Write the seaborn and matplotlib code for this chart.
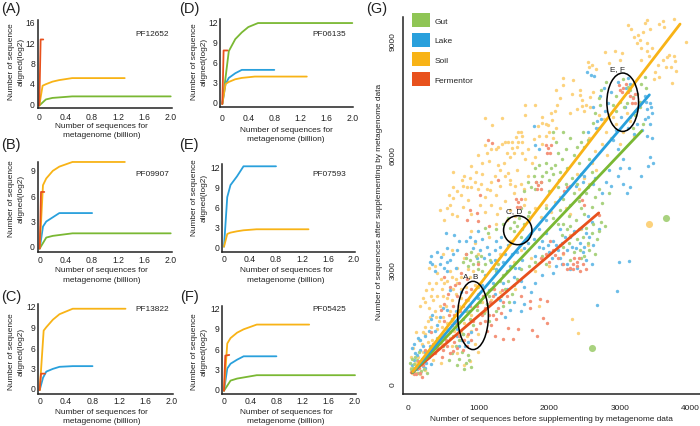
import matplotlib
matplotlib.use('Agg')
import pandas as pd
import seaborn as sns
import matplotlib.pyplot as plt
from matplotlib.patches import Ellipse, Patch

sns.set_style('white')
plt.rcParams['font.family'] = ['Liberation Sans', 'DejaVu Sans']

GREEN, BLUE, ORANGE, RED = '#7AB833', '#29A0DC', '#F8B316', '#E8511D'
palette = {'Gut': GREEN, 'Lake': BLUE, 'Soil': ORANGE, 'Fermentor': RED}
light = {'Gut': '#A9D27F', 'Lake': '#6CBDE8', 'Soil': '#FCD27D', 'Fermentor': '#F4937A'}
INK = '#222222'

#rarefaction curves, (x, y) per habitat
a_soil = [(0, -0.5), (0.05, 3.4), (0.1, 3.7), (0.2, 4.2), (0.3, 4.5), (0.5, 4.9), (0.8, 4.9), (1.3, 4.9)]
a_gut = [(0, -0.5), (0.1, 0.7), (0.2, 1.0), (0.5, 1.3), (1.0, 1.3), (2.0, 1.3)]
a_ferm = [(0, -0.5), (0.01, 6), (0.02, 12.5), (0.06, 12.5)]

b_soil = [(0, -0.3), (0.05, 7.2), (0.1, 8.0), (0.2, 8.9), (0.3, 9.4), (0.5, 9.95), (0.8, 9.95), (1.3, 9.95)]
b_lake = [(0, -0.3), (0.05, 2.3), (0.1, 2.9), (0.2, 3.4), (0.3, 3.9), (0.5, 3.9), (0.8, 3.9)]
b_gut = [(0, -0.3), (0.1, 1.0), (0.2, 1.2), (0.5, 1.5), (1.0, 1.5), (2.0, 1.5)]
b_ferm = [(0, -0.3), (0.01, 3), (0.02, 6.4), (0.07, 6.4)]

c_soil = [(0, -0.3), (0.06, 8.4), (0.1, 8.9), (0.2, 10.0), (0.3, 10.8), (0.5, 11.6), (0.8, 11.6), (1.3, 11.6)]
c_lake = [(0, -0.3), (0.05, 1.5), (0.1, 2.4), (0.2, 2.8), (0.3, 3.1), (0.5, 3.2), (0.8, 3.2)]
c_ferm = [(0, -0.3), (0.01, 1), (0.02, 2.1), (0.08, 2.1)]

d_gut = [(0, -0.3), (0.1, 7.6), (0.2, 9.4), (0.3, 10.4), (0.4, 11.2), (0.55, 11.8), (1.0, 11.8), (2.0, 11.8)]
d_lake = [(0, -0.3), (0.05, 2.7), (0.1, 3.6), (0.2, 4.3), (0.3, 4.8), (0.5, 4.8), (0.8, 4.8)]
d_soil = [(0, -0.3), (0.05, 2.7), (0.1, 3.0), (0.2, 3.4), (0.3, 3.6), (0.5, 3.8), (0.8, 3.8), (1.3, 3.8)]
d_ferm = [(0, -0.3), (0.01, 3.5), (0.02, 7.7), (0.08, 7.7)]

e_lake = [(0, 0), (0.05, 7.4), (0.1, 9.2), (0.2, 10.5), (0.3, 12), (0.5, 12), (0.8, 12)]
e_soil = [(0, 0), (0.05, 1.9), (0.1, 2.1), (0.2, 2.3), (0.3, 2.45), (0.5, 2.6), (0.8, 2.6), (1.3, 2.6)]

f_soil = [(0, -0.3), (0.05, 6.7), (0.1, 7.5), (0.2, 8.3), (0.3, 8.8), (0.5, 9.5), (0.8, 9.5), (1.3, 9.5)]
f_lake = [(0, -0.3), (0.05, 3.0), (0.1, 3.7), (0.2, 4.3), (0.3, 4.8), (0.5, 4.8), (0.8, 4.8)]
f_gut = [(0, -0.3), (0.1, 1.2), (0.2, 1.5), (0.5, 2.0), (1.0, 2.0), (2.0, 2.0)]
f_ferm = [(0, -0.3), (0.01, 2.5), (0.02, 4.9), (0.08, 5.0)]

#scatter points of panel G
soil_pts = [(3121,9412),(3380,9544),(3616,9500),(3767,9570),(3932,8950),(3239,8930),(3380,8930),(3262,9150),(3380,8712),(2791,8686),
(2932,8712),(3027,8670),(2555,8432),(3663,8580),(3781,8450),(3498,8187),(3734,7880),(2202,8012),(2343,7970),(2202,7840),
(2438,7706),(2461,7444),(2579,7531),(2108,7312),(1660,7312),(1801,7312),(1660,7050),(1094,6962),(1330,6962),(1188,6787),
(1895,7006),(2036,6918),(1566,6612),(1424,6350),(1094,6262),(1000,6000),(1613,6350),(1377,6350),(1047,5780),(646,5562),
(764,5343),(952,5300),(1165,5081),(1283,5737),(1424,5519),(1542,5606),(646,4862),(457,4556),(858,4818),(3160,9300),(3290,9000),(3420,9300),
(3450,8800),(3560,9420),(3650,8300),(3720,8300),(3790,8200),(3300,8500),(2850,8400),(3000,8500),(2600,8350),(2660,8250),(2100,7700),(2150,7500),
(2320,7600),(2400,7200),(2500,7150),(2520,7300),(2300,7100),(1950,6800),(2000,6600),(2100,6700),(1850,6500),(1900,6300),(2050,6450),(1700,6150),
(1550,6200),(1500,6050),(1450,5950),(1250,6150),(1150,5850),(1050,5500),(900,5700),(800,5450),(900,5150),(1000,5100),(1100,4900),(1250,4950),
(1300,5200),(1450,5250),(1500,5000),(1650,5100),(1700,5450),(750,4950),(600,4700),(520,4300),(700,4400),(1100,4500),(1300,4600),(1400,4300),
(1250,4200),(1650,4700),(1800,4600),(1950,4700),(2150,4900),(2300,4450),(2500,5400),(2650,6100),(2800,6600),(2950,6800),(3100,7100),(2900,7000),
(2750,6300),(2600,5800),(2400,5500),(3000,6300),(3200,6500),(2450,4050),(2300,3900),(2550,3650),(2200,3400),(2000,3100),(1800,2950),(1750,3300),
(1600,3500),(1450,3750),(1300,3400),(1150,3850),(950,3700),(900,4000),(800,3300),(700,3050),(850,3000),(750,2800),(600,2950),(520,2650),
(640,2500),(500,2300),(350,2500),(250,2150),(450,2050),(380,1900),(310,1750),(500,1750),(600,1900),(730,2050),(850,2200),(820,2550),
(950,2600),(1000,2350),(1050,2150),(900,1800),(800,1600),(700,1500),(550,1450),(420,1450),(250,1300),(120,1350),(200,1050),(350,1150),
(480,1050),(600,1200),(840,1250),(900,1400),(1000,1300),(150,700),(100,560),(250,700),(50,430),(120,300),(80,350),(180,500),
(330,2300),(400,2650),(560,2250),(300,2000),(440,1650),(680,2750),(2329,1700),(2414,1325),(470,550),(1100,1900),(1180,2200),(1300,2400),(1520,2500),(1850,2050),
(3200,9100),(3330,9230),(3350,9470),(3630,9350),(3300,8800),(3410,8600),(3540,8350),(3610,8500),(3690,8620),(3760,8600),(3560,8050),(3480,8000),(2560,8300),(2580,7250),(2620,7650),(2440,7580),(2470,7280),
(2090,7150),(2020,7100),(1900,6850),(1960,6500),(1990,6780),(1840,6750),(1780,6420),(1620,6500),(1600,6600),(1530,6480),(1560,6350),(1480,6330),(1340,6300),(1280,6200),(1180,6150),(1120,6050),
(1400,6050),(1470,6180),(1610,6050),(1660,5900),(1760,5800),(1800,5950),(1360,5800),(1300,5600),(1380,5450),(1440,5350),(1520,5200),(1600,5250),(1240,5450),(1180,5300),(1120,5120),(1030,5250),
(960,5550),(880,5400),(840,5150),(780,5200),(700,5050),(640,5150),(580,4950),(550,4600),(620,4450),(780,4650),(900,4450),(1020,4700),(1180,4700),(1260,4450),(1380,4800),(1440,4550),(1520,4400),
(1660,4850),(1720,4300),(1880,4380),(2020,4500),(2080,4780),(2240,4600),(2420,5100),(2560,5250),(2660,5600),(2820,6000),(2880,6450),(3050,6600),(3140,6900),(2780,6950),(2700,7050),(2560,6450),
(300,3050),(380,3100),(420,2900),(470,2750),(560,2700),(620,2800),(700,2650),(760,2500),(880,2800),(920,2950),(300,2650),(260,2450),(220,2250),(180,2050),(360,2200),(420,2300),(480,2500),(540,2050),
(620,2200),(680,2350),(760,2250),(810,1950),(700,1800),(640,1650),(560,1600),(480,1500),(400,1750),(330,1500),(280,1650),(240,1500),(210,1350),(160,1150),(290,1100),(420,1000),(520,1250),(650,1400),
(760,1350),(950,1050),(1000,850),(880,600),(700,800),(630,1000),(80,950),(40,700),(210,850),(300,800),(360,620),(180,250),(240,360),(60,280),(800,500),(500,3400),(620,3500),(1000,3400),(1500,3200)]

gut_pts = [(3050,8000),(3150,7700),(3250,7600),(3300,7850),(3350,8050),(3000,7400),(3100,7350),(2900,7300),(2950,7550),(3150,7000),(3220,7150),(3280,7250),
(3330,6800),(3180,6700),(2800,7900),(2700,7500),(2650,7100),(2480,6600),(2500,6200),(2350,6000),(2420,5800),(2560,5900),(2250,5650),(2150,5550),(2050,6600),(2100,6350),
(1950,5800),(1850,5750),(1800,5650),(1900,5450),(2000,5350),(1700,5300),(1650,5050),(1800,5100),(2000,5050),(2400,5250),(2550,5150),(2700,5100),(2850,5000),(2750,4750),
(2600,4650),(2450,4600),(2200,4850),(2350,5000),(1500,4250),(1580,4350),(1650,4200),(1500,4000),(1600,3850),(1450,4100),(1100,4100),(1130,3950),(2200,4200),(2300,4150),
(2350,3950),(2480,3850),(2550,3700),(2600,3950),(2700,4000),(2730,4250),(2790,4150),(2650,3400),(2500,3350),(2430,3500),(2300,3250),(820,3300),(880,3250),(960,3350),(850,3100),(900,3450),
(1100,3150),(1050,2950),(1200,3050),(1300,2700),(1250,2950),(1000,2550),(1020,2150),(980,1950),(830,1900),(880,1700),(1380,2500),(1470,2350),(1500,2600),(1350,2050),(1250,1900),(1150,1650),
(640,1250),(730,1150),(770,850),(850,750),(830,550),(900,450),(720,650),(620,800),(500,1000),(420,1200),(160,850),(130,620),(60,650),(30,550),(120,420),(190,350),(90,300),(150,280),
(2500,4450),(2280,4400),(1950,4600),(1720,4500),(1600,4600),(2380,4300),(1000,3000),(1150,2300),(1320,2300),
(3110,7780),(3180,7530),(3060,7250),(3210,7050),(3370,7750),(3290,7400),(2950,7150),(2720,7300),(2740,7700),(2620,6850),(2550,6400),(2450,6350),(2400,6200),(2300,6450),(2200,6600),(2240,6150),
(2120,6050),(2180,5900),(2080,5750),(2020,5650),(1960,5550),(2060,5500),(2140,5350),(1880,5300),(1780,5450),(1820,5300),(1740,5150),(2120,5150),(2240,5250),(2320,5400),(2450,5500),(2600,5550),
(2520,5000),(2650,4900),(2420,4800),(2300,4700),(2150,4550),(2050,4350),(2120,4200),(2250,4050),(2180,3900),(2280,3700),(2400,3800),(2420,4050),(2520,4100),(2620,4200),(2680,3800),(2560,3500),
(2450,3300),(2350,3450),(2200,3600),(1540,4150),(1620,4050),(1700,4400),(1420,4350),(1350,4200),(1250,4050),(780,3200),(830,3400),(930,3150),(990,3200),(1030,3350),(1160,3250),(1280,3150),(1350,2850),
(1420,2700),(1550,2750),(1600,3000),(1720,3100),(1800,3200),(1900,3350),(1950,3150),(1430,2150),(1180,2500),(1120,2100),(1080,1850),(930,1550),(780,1300),(680,1000),(580,620),(790,400),(860,620),(700,500),
(230,700),(190,560),(90,520),(40,400),(230,400),(110,720),(70,420),(270,300)]

lake_pts = [(3120,8020),(2980,7900),(2540,8180),(2590,8100),(2630,8080),(2770,7750),(2720,7550),(2830,7350),(2620,7250),(2680,6900),(2950,6650),(3020,7000),(3090,7750),(3150,7850),(3350,7550),(3420,7350),
(3450,7100),(3400,7000),(3250,6800),(3380,6500),(3450,6450),(3430,5950),(3470,5800),(3400,5700),(3300,5450),(3150,5150),(3100,5000),(3050,5250),(2970,5450),(2850,5600),(2800,5300),(2650,5400),
(2500,5450),(2700,6700),(2550,6600),(1780,6750),(1800,6250),(1850,6150),(2994,3209),(3135,3218),(2956,2424),(2683,2058),(2700,4050),(2550,4400),(2450,4100),(2350,4000),(2300,3850),(2180,3700),
(2100,3650),(1950,3950),(1900,3750),(1850,3600),(1800,3350),(2000,3450),(2150,3300),(2250,3500),(2500,3600),(2520,3250),(2600,3150),(2100,3100),(1900,2850),(1800,2650),(1750,2400),(1650,2550),
(1600,2700),(1500,2800),(1400,2950),(1350,3200),(1300,3600),(1250,3750),(1150,3400),(1000,4000),(950,3750),(880,3850),(1050,3800),(730,3750),(650,3900),(550,3550),(540,3950),(320,3200),(330,3350),(350,3150),(470,3330),
(420,3450),(600,3250),(680,3050),(560,2950),(1100,2850),(1050,2600),(1000,2250),(1300,2200),(1450,1950),(1600,1900),(1400,2500),(1200,2650),(760,2400),(600,2450),(500,2000),(330,1700),(350,1800),
(420,1550),(300,1400),(140,1200),(90,1050),(180,1150),(60,950),(100,800),(200,650),(260,550),(240,420),(170,300),(150,500),(780,1300),(850,1100),(730,1000),(700,1450),(620,1700),(1250,3000),(1580,3050),
(1700,3700),(1750,3950),(1550,3450),(1450,3100),(2050,2900),(2250,3150),(2400,3050),(1850,4050),(2150,4050),(1950,4300),
(3370,7400),(3440,7250),(3390,7200),(3360,6950),(3430,6800),(3310,6650),(3200,6550),(3120,6700),(3070,7250),(2880,7650),(2790,7150),(2740,6950),(2660,6700),(2900,6400),(2980,6150),(3040,5900),(3130,5650),
(3000,5650),(2880,5200),(2750,5000),(2620,5250),(2480,5300),(2380,5200),(2600,4250),(2520,3950),(2430,3700),(2380,3550),(2320,3600),(2230,3850),(2130,3500),(2060,3750),(1980,3650),(1920,3550),(2040,3300),
(2180,3150),(2300,3000),(2480,3450),(2560,3850),(2620,3650),(1780,3800),(1650,3550),(1620,3250),(1520,3050),(1480,3400),(1420,3650),(1380,3400),(1320,3850),(1230,3500),(1180,3200),(1240,3250),(1120,3600),
(1080,3300),(1020,3500),(980,3300),(920,3550),(820,3750),(700,3500),(640,3400),(560,3200),(510,3050),(450,3150),(390,2950),(1150,2450),(1230,2350),(1350,2650),(1500,2150),(1650,2100),(1380,1750),(1120,2100),
(870,1900),(780,1700),(680,1900),(560,1950),(450,1750),(380,1400),(240,1250),(210,1000),(320,1000),(250,850),(180,900),(130,750),(90,620),(60,500),(210,480),(130,380),(300,700),(330,520),(700,1250),(810,1000),(760,1150),(900,1350)]

ferm_pts = [(1565,4775),(1530,4850),(1600,4850),(1540,4650),(1590,4640),(1990,6175),(1950,6250),(2030,6250),(1970,6050),(2010,6050),(1848,5212),(1810,5300),(1880,5120),(1830,5100),(1880,5300),(2249,5170),(2210,5050),(2290,5200),
(3050,7750),(2990,7830),(3090,7850),(3030,7650),(3192,7488),(3140,7550),(3220,7600),(3210,7350),(882,4556),(1188,6324),(1140,6400),(1023,4950),(1283,5343),(2461,4818),(2420,4900),(2500,4700),(976,4482),(835,4308),(1000,4264),
(2084,3392),(2013,3741),(2202,3436),(2390,3087),(2296,3043),(2249,3000),(2420,3300),(2350,3300),(2150,3650),(1966,2171),(1872,2215),(1730,2171),(1424,1474),(1565,1430),(1754,1404),(1353,1186),(1825,1256),(1495,1168),(1235,1256),
(1966,1604),(1919,1735),(198,183),(646,863),(560,1000),(720,1250),(600,1350),(800,1150),(500,900),(380,800),(450,1250),(330,1350),(250,900),(140,600),(100,400),(70,350),(180,300),(520,1650),(660,1800),(780,2050),(700,2300),(820,2400),(900,2500),
(1050,1800),(1100,2000),(1160,2150),(1200,1800),(1270,2000),(1320,1850),(1350,2150),(1400,2300),(1180,1550),(1250,1700),(920,1650),(850,1300),(600,2550),(520,2800),(760,2900),(830,3400),(1000,3150),(1150,4150),(1600,2300),(1730,2000),(2700,4430),
(3000,7700),(3120,7650),(3170,7350),(2340,3000),(2400,3200),(2440,2950),(2340,3150),(2200,3150),(2130,3300),(2060,3500),(1950,3400),(1880,3300),(2000,3200),(2480,3150),(2520,3000),
(700,950),(660,1100),(600,800),(540,1150),(480,700),(420,950),(360,1050),(310,900),(260,650),(210,500),(120,250),(90,250),(50,320),(160,420),(780,900),(840,1000),(900,1150),(960,1450),(1020,1600),(1090,1650),(1150,1800),
(1120,1400),(1060,2300),(980,2050),(880,2050),(820,2200),(740,1900),(680,1600),(620,1550),(590,1800),(520,2100),(470,1950),(640,2050),(570,2350),(670,2600),(730,2650),(840,2750),(1200,2300),(1280,2250),(1220,2500),(1330,2450)]

lines_g = {'Soil': [(70, 320), (3852, 9430)], 'Lake': [(70, 310), (3418, 7575)],
           'Gut': [(70, 300), (3310, 6630)], 'Fermentor': [(60, 296), (2702, 4482)]}
big_gut = [(3654, 4351), (2612, 942)]
big_soil = [(3418, 4194)]

#ellipse centre x, y, width, height and label position
ell_ab = (924, 1796, 434, 1788, 'A, B', 891, 2843)
ell_cd = (1556, 4029, 401, 759, 'C, D', 1504, 4539)
ell_ef = (3041, 7382, 448, 1530, 'E, F', 2966, 8257)

#tag, tag pos, name, name pos, axes box, x ticks px, y ticks px, y ticks, curves, tick pad, xlabel (cx, top), ylabel (right, cy)
panels = [
    ('(A)', (1, 9), 'PF12652', (135.7, 34), (37.7, 20.7, 171.7, 109), (39.3, 170.7), (104, 22.7, 16), [0, 4, 8, 12, 16],
     [('Gut', a_gut), ('Soil', a_soil), ('Fermentor', a_ferm)], 3.2, (101.7, 123), (24.5, 61.5)),
    ('(B)', (1, 145), 'PF09907', (135.7, 174.3), (37.7, 163.3, 171.7, 253.3), (39.7, 170.7), (247, 171, 9), [0, 3, 6, 9],
     [('Gut', b_gut), ('Lake', b_lake), ('Soil', b_soil), ('Fermentor', b_ferm)], 2, (101.7, 267.5), (24.5, 199)),
    ('(C)', (1, 297), 'PF13822', (135.7, 309.3), (38.3, 304.7, 172.5, 394.7), (39.7, 171.7), (389, 307, 12), [0, 3, 6, 9, 12],
     [('Lake', c_lake), ('Soil', c_soil), ('Fermentor', c_ferm)], 2, (101.7, 409), (24.5, 352)),
    ('(D)', (179, 9), 'PF06135', (312.7, 34.3), (220.3, 20, 353.3, 108), (222.3, 352.3), (103, 22.7, 12), [0, 3, 6, 9, 12],
     [('Gut', d_gut), ('Lake', d_lake), ('Soil', d_soil), ('Fermentor', d_ferm)], 4, (286, 127), (207.5, 62)),
    ('(E)', (179, 145), 'PF07593', (312.7, 175), (222.3, 165, 355, 252.7), (224, 354), (247.7, 167.3, 12), [0, 3, 6, 9, 12],
     [('Lake', e_lake), ('Soil', e_soil)], 2, (286, 267.5), (207.5, 198)),
    ('(F)', (180, 297), 'PF05425', (312.7, 309.7), (222.3, 307, 356, 394.7), (224, 355), (389.7, 308.7, 12), [0, 3, 6, 9, 12],
     [('Gut', f_gut), ('Lake', f_lake), ('Soil', f_soil), ('Fermentor', f_ferm)], 2, (286, 409), (207.5, 352)),
]

W, H = 700, 427
FS = 5.95
fig = plt.figure(figsize=(7, 4.27), dpi=100)

def make_axes(box):
    l, t, r, b = box
    ax = fig.add_axes([l / W, 1 - b / H, (r - l) / W, (b - t) / H])
    ax.patch.set_alpha(0)
    sns.despine(ax=ax)
    for s in ['left', 'bottom']:
        ax.spines[s].set_linewidth(1.1)
        ax.spines[s].set_color(INK)
    return ax

for tag, tagpos, name, namepos, box, xpx, ypx, yticks, curves, pad, xl, yl in panels:
    ax = make_axes(box)
    for hab, pts in curves:
        d = pd.DataFrame(pts, columns=['x', 'y'])
        sns.lineplot(data=d, x='x', y='y', color=palette[hab], linewidth=1.3, sort=False, estimator=None, ax=ax, clip_on=False)
    per_x = (xpx[1] - xpx[0]) / 2.0
    ax.set_xlim((box[0] - xpx[0]) / per_x, (box[2] - xpx[0]) / per_x)
    per_y = (ypx[0] - ypx[1]) / ypx[2]
    ax.set_ylim((ypx[0] - box[3]) / per_y, (ypx[0] - box[1]) / per_y)
    ax.set_xticks([0, 0.4, 0.8, 1.2, 1.6, 2.0], ['0', '0.4', '0.8', '1.2', '1.6', '2.0'])
    ax.set_yticks(yticks)
    ax.tick_params(length=0, labelsize=FS + 0.3, pad=2, colors=INK)
    ax.tick_params(axis='x', pad=pad)
    ax.set_xlabel('Number of sequences for\nmetagenome (billion)', fontsize=FS, color=INK, linespacing=1.42)
    ax.xaxis.set_label_coords((xl[0] - box[0]) / (box[2] - box[0]), (box[3] - xl[1]) / (box[3] - box[1]))
    ax.set_ylabel('Number of sequence\naligned(log2)', fontsize=FS, color=INK, linespacing=1.4)
    ax.yaxis.set_label_coords((yl[0] - box[0]) / (box[2] - box[0]), (box[3] - yl[1]) / (box[3] - box[1]))
    fig.text(namepos[0] / W, 1 - namepos[1] / H, name, fontsize=FS, color=INK, va='center', ha='left')
    fig.text(tagpos[0] / W, 1 - tagpos[1] / H, tag, fontsize=10.5, va='center', ha='left', color=INK)

axg = make_axes((402.7, 18, 700, 395))
for hab, pts in [('Soil', soil_pts), ('Lake', lake_pts), ('Gut', gut_pts), ('Fermentor', ferm_pts)]:
    d = pd.DataFrame(pts, columns=['x', 'y'])
    sns.scatterplot(data=d, x='x', y='y', color=light[hab], s=6, linewidth=0, ax=axg, zorder=2)
for hab in ['Fermentor', 'Gut', 'Lake', 'Soil']:
    d = pd.DataFrame(lines_g[hab], columns=['x', 'y'])
    sns.lineplot(data=d, x='x', y='y', color=palette[hab], linewidth=2.0, ax=axg, zorder=3)
sns.scatterplot(x=[p[0] for p in big_gut], y=[p[1] for p in big_gut], color=light['Gut'], s=26, linewidth=0, ax=axg, zorder=3)
sns.scatterplot(x=[p[0] for p in big_soil], y=[p[1] for p in big_soil], color=light['Soil'], s=26, linewidth=0, ax=axg, zorder=3)

for cx, cy, w, h, lab, lx, ly in [ell_ab, ell_cd, ell_ef]:
    axg.add_patch(Ellipse((cx, cy), w, h, fill=False, edgecolor='black', linewidth=1.1, zorder=4))
    axg.text(lx, ly, lab, fontsize=FS, ha='center', va='center', color=INK, zorder=5)

axg.set_xlim(-71, 4134)
axg.set_ylim(-262, 9615)
axg.set_xticks([0, 1000, 2000, 3000, 4000])
axg.set_yticks([0, 3000, 6000, 9000])
axg.tick_params(length=0, labelsize=FS + 0.1, colors=INK)
axg.tick_params(axis='x', pad=7)
axg.tick_params(axis='y', pad=4.5)
plt.setp(axg.get_yticklabels(), rotation=90, va='center')
axg.set_xlabel('Number of sequences before supplementing by metagenome data', fontsize=FS, color=INK)
axg.xaxis.set_label_coords((551 - 402.7) / (700 - 402.7), (395 - 416.5) / (395 - 18))
axg.set_ylabel('Number of sequences after supplementing by metagenome data', fontsize=FS, color=INK)
axg.yaxis.set_label_coords((383 - 402.7) / (700 - 402.7), (395 - 202) / (395 - 18))
fig.text(366 / W, 1 - 9 / H, '(G)', fontsize=10.5, va='center', ha='left', color=INK)

handles = [Patch(color=palette[k], label=k, linewidth=0) for k in ['Gut', 'Lake', 'Soil', 'Fermentor']]
handles[0].set_color('#8FC555')
axg.legend(handles=handles, loc='upper left', bbox_to_anchor=(0.03, 1.01), frameon=False, fontsize=FS + 0.1,
           handlelength=2.2, handleheight=2.2, labelspacing=0.65, handletextpad=0.5, borderpad=0, borderaxespad=0)

fig.savefig('out.png', dpi=100)
